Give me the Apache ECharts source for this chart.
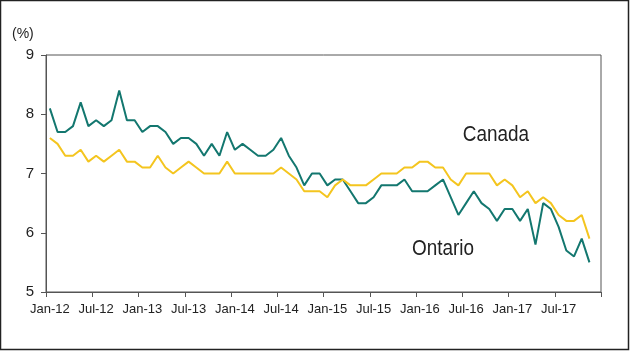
<!DOCTYPE html>
<html>
<head>
<meta charset="utf-8">
<script src="https://cdn.jsdelivr.net/npm/echarts@6/dist/echarts.min.js"></script>
<style>
html,body{margin:0;padding:0;background:#fff;}
#chart{width:630px;height:351px;}
</style>
</head>
<body>
<div id="chart"></div>
<script>
var years = ['12','13','14','15','16','17'];
var monthNames = ['Jan','Feb','Mar','Apr','May','Jun','Jul','Aug','Sep','Oct','Nov','Dec'];
var categories = [];
years.forEach(function(y){ monthNames.forEach(function(m){ categories.push(m + '-' + y); }); });

var ontario = [
  8.1,7.7,7.7,7.8,8.2,7.8,7.9,7.8,7.9,8.4,7.9,7.9,
  7.7,7.8,7.8,7.7,7.5,7.6,7.6,7.5,7.3,7.5,7.3,7.7,
  7.4,7.5,7.4,7.3,7.3,7.4,7.6,7.3,7.1,6.8,7.0,7.0,
  6.8,6.9,6.9,6.7,6.5,6.5,6.6,6.8,6.8,6.8,6.9,6.7,
  6.7,6.7,6.8,6.9,6.6,6.3,6.5,6.7,6.5,6.4,6.2,6.4,
  6.4,6.2,6.4,5.8,6.5,6.4,6.1,5.7,5.6,5.9,5.5
];
var canada = [
  7.6,7.5,7.3,7.3,7.4,7.2,7.3,7.2,7.3,7.4,7.2,7.2,
  7.1,7.1,7.3,7.1,7.0,7.1,7.2,7.1,7.0,7.0,7.0,7.2,
  7.0,7.0,7.0,7.0,7.0,7.0,7.1,7.0,6.9,6.7,6.7,6.7,
  6.6,6.8,6.9,6.8,6.8,6.8,6.9,7.0,7.0,7.0,7.1,7.1,
  7.2,7.2,7.1,7.1,6.9,6.8,7.0,7.0,7.0,7.0,6.8,6.9,
  6.8,6.6,6.7,6.5,6.6,6.5,6.3,6.2,6.2,6.3,5.9
];
var yTicks = [5,6,7,8,9];

var regular = "'Liberation Sans',Arial,sans-serif";

var chart = echarts.init(document.getElementById('chart'));
chart.setOption({
  animation: false,
  grid: {left: 46, right: 29, top: 55, bottom: 59, show: true, borderColor: '#555', borderWidth: 1, backgroundColor: 'transparent'},
  xAxis: {
    type: 'category',
    data: categories,
    boundaryGap: true,
    axisLine: {lineStyle: {color: '#555', width: 1}},
    axisTick: {show: true, interval: 5, length: 5, lineStyle: {color: '#555'}},
    axisLabel: {interval: 5, color: '#222', fontSize: 13, fontFamily: regular, margin: 11},
    splitLine: {show: false}
  },
  yAxis: {
    type: 'value',
    min: yTicks[0], max: yTicks[yTicks.length-1], interval: 1,
    axisLine: {show: true, lineStyle: {color: '#555', width: 1}},
    axisTick: {show: true, length: 5, lineStyle: {color: '#555'}},
    axisLabel: {color: '#222', fontSize: 15, fontFamily: regular, margin: 12},
    splitLine: {show: false}
  },
  series: [
    {name: 'Ontario', type: 'line', data: ontario, symbol: 'none', lineStyle: {color: '#13776f', width: 2}, itemStyle: {color: '#13776f'}},
    {name: 'Canada', type: 'line', data: canada, symbol: 'none', lineStyle: {color: '#f4c51f', width: 2}, itemStyle: {color: '#f4c51f'}}
  ],
  graphic: [
    {type: 'rect', shape: {x: 0.5, y: 0.5, width: 628, height: 349}, style: {fill: 'none', stroke: '#222', lineWidth: 1.5}},
    {type: 'text', left: 12, top: 27, style: {text: '(%)', fill: '#222', font: '14px ' + regular}},
    {type: 'text', x: 496, y: 135, scaleX: 0.86, style: {x: 0, y: 0, text: 'Canada', fill: '#222', font: '22px ' + regular, align: 'center', verticalAlign: 'middle'}},
    {type: 'text', x: 443, y: 249, scaleX: 0.86, style: {x: 0, y: 0, text: 'Ontario', fill: '#222', font: '22px ' + regular, align: 'center', verticalAlign: 'middle'}}
  ]
});
</script>
</body>
</html>
